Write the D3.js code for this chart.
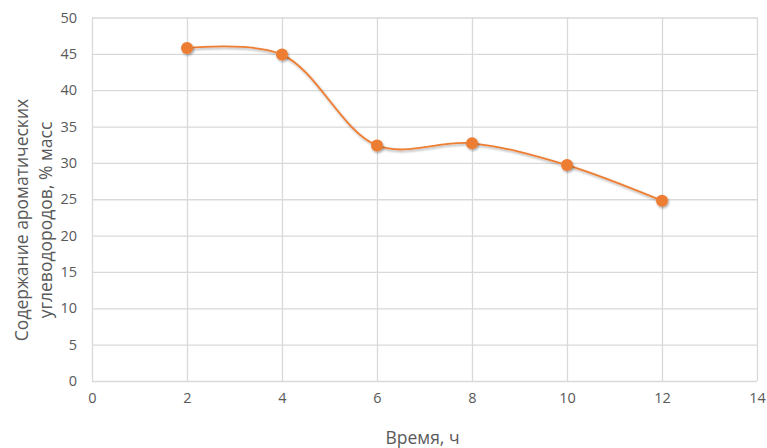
<!DOCTYPE html>
<html><head><meta charset="utf-8">
<script src="https://cdn.jsdelivr.net/npm/d3@7"></script>
<style>body{margin:0;background:#fff}svg{display:block}</style>
</head><body>
<svg id="c" width="767" height="448"></svg>
<script>
const hours = [2, 4, 6, 8, 10, 12];
const aromatics = [45.8, 44.9, 32.4, 32.7, 29.7, 24.8];
const xTicks = [0, 2, 4, 6, 8, 10, 12, 14];
const yTicks = [0, 5, 10, 15, 20, 25, 30, 35, 40, 45, 50];
const xTitle = "Время, ч";
const yTitleLines = ["Содержание ароматических", "углеводородов, % масс"];

(function () {
const svg = d3.select("#c");
const font = "'Open Sans', sans-serif";
const pl = 92, pr = 757, pt = 17.5, pb = 381;
const x = d3.scaleLinear().domain([0, 14]).range([pl, pr]);
const y = d3.scaleLinear().domain([0, 50]).range([pb, pt]);

const defs = svg.append("defs");
const f = defs.append("filter").attr("id", "sh").attr("x", "-50%").attr("y", "-50%").attr("width", "200%").attr("height", "200%");
f.append("feDropShadow").attr("dx", 1).attr("dy", 1.5).attr("stdDeviation", 1.3).attr("flood-color", "#000").attr("flood-opacity", 0.35);

const gx = svg.append("g").attr("transform", `translate(0,${pb})`)
  .call(d3.axisBottom(x).tickValues(xTicks).tickSize(-(pb - pt)).tickPadding(12).tickFormat(d3.format("d")));
const gy = svg.append("g").attr("transform", `translate(${pl},0)`)
  .call(d3.axisLeft(y).tickValues(yTicks).tickSize(-(pr - pl)).tickPadding(15).tickFormat(d3.format("d")));
[gx, gy].forEach(g => {
  g.select(".domain").remove();
  g.selectAll(".tick line").attr("stroke", "#d9d9d9").attr("stroke-width", 1.3);
  g.selectAll(".tick text").attr("fill", "#595959").style("font-family", font).style("font-size", "14.5px");
});

const line = d3.line().x((d, i) => x(hours[i])).y(d => y(d)).curve(d3.curveCatmullRom.alpha(0.5));
svg.append("path").datum(aromatics).attr("d", line).attr("fill", "none")
  .attr("stroke", "#ED7D31").attr("stroke-width", 1.8).attr("filter", "url(#sh)");

svg.append("g").selectAll("circle").data(aromatics).join("circle")
  .attr("cx", (d, i) => x(hours[i])).attr("cy", d => y(d)).attr("r", 6)
  .attr("fill", "#ED7D31").attr("filter", "url(#sh)");

svg.append("text").attr("x", (pl + pr) / 2 - 2).attr("y", 444).attr("text-anchor", "middle")
  .attr("fill", "#595959").style("font-family", font).style("font-size", "17.5px").text(xTitle);
const yt = svg.append("text").attr("transform", "translate(0,220) rotate(-90)")
  .attr("text-anchor", "middle").attr("fill", "#595959").style("font-family", font).style("font-size", "17.5px");
yTitleLines.forEach((t, i) => yt.append("tspan").attr("x", 0).attr("y", 28 + i * 24).text(t));
})();
</script>
</body></html>
